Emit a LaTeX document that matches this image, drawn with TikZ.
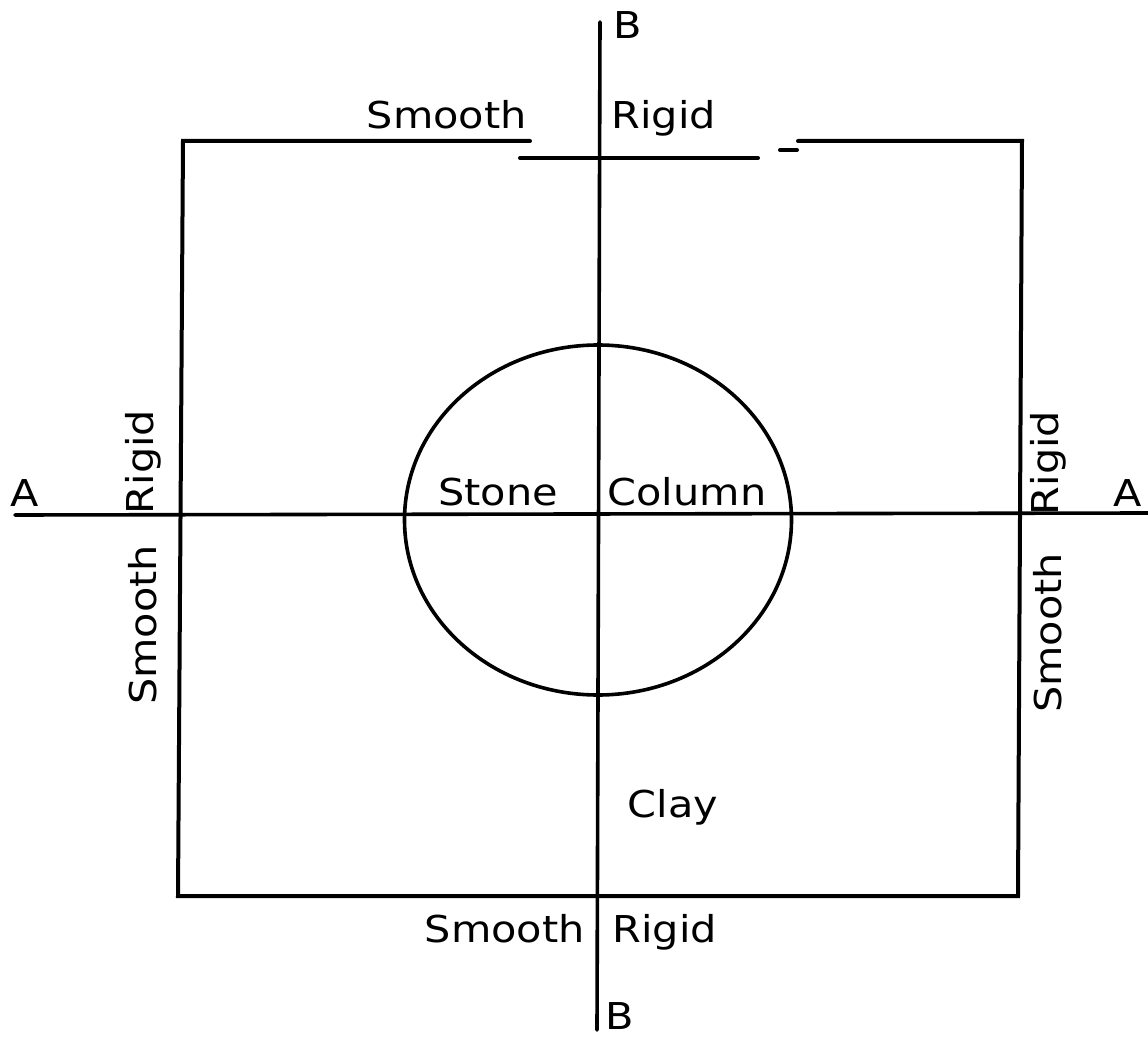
\documentclass[tikz,border=0pt]{standalone}
\usepackage{fontspec}
\setmainfont{DejaVu Sans}[FakeStretch=1.12]
\begin{document}
\begin{tikzpicture}[x=0.5pt,y=-0.5pt,
  lbl/.style={inner sep=0pt,font=\fontsize{18.5}{20}\selectfont},
  edge/.style={line width=2pt,line cap=round},
  axis/.style={line width=1.8pt,line cap=round}]
\useasboundingbox (0,0) rectangle (1148,1038);
% square corners and top-edge pieces
\coordinate (tl) at (183,141);
\coordinate (bl) at (178,896);
\coordinate (br) at (1018,896);
\coordinate (tr) at (1022,141);
\coordinate (t1) at (530,141);
\coordinate (m0) at (520,158);
\coordinate (m1) at (758,158);
\coordinate (d0) at (780,150);
\coordinate (d1) at (797,150);
\coordinate (t2) at (798,141);
\draw[edge] (t1) -- (tl) -- (bl) -- (br) -- (tr) -- (t2);
\draw[edge] (m0) -- (m1);
\draw[edge] (d0) -- (d1);
% axes
\coordinate (Bt) at (600,22);
\coordinate (Bb) at (597,1030);
\coordinate (Al) at (15,515);
\coordinate (Ar) at (1148,513);
\draw[axis] (Bt) -- (Bb);
\draw[axis] (Al) -- (Ar);
% column
\coordinate (cc) at (598,520);
\draw[line width=1.8pt] (cc) ellipse [x radius=193.5, y radius=175];
% labels
\node[lbl,anchor=base east] (sTop) at (527,129) {Smooth};
\node[lbl,anchor=base west] (rTop) at (611,129) {Rigid};
\node[lbl] (bTop) at (628,25) {B};
\node[lbl] (aL) at (25,493) {A};
\node[lbl] (aR) at (1128,493) {A};
\node[lbl,rotate=90] (rL) at (143,462) {Rigid};
\node[lbl,rotate=90] (sL) at (143,625) {Smooth};
\node[lbl,rotate=90] (rR) at (1048,463) {Rigid};
\node[lbl,rotate=90] (sR) at (1048,633) {Smooth};
\node[lbl,anchor=base] (stone) at (498,505) {Stone};
\node[lbl,anchor=base] (col) at (687,505) {Column};
\node[lbl,anchor=base] (clay) at (673,817) {Clay};
\node[lbl,anchor=base east] (sBot) at (585,942) {Smooth};
\node[lbl,anchor=base west] (rBot) at (612,942) {Rigid};
\node[lbl] (bBot) at (620,1016) {B};
\end{tikzpicture}
\end{document}
